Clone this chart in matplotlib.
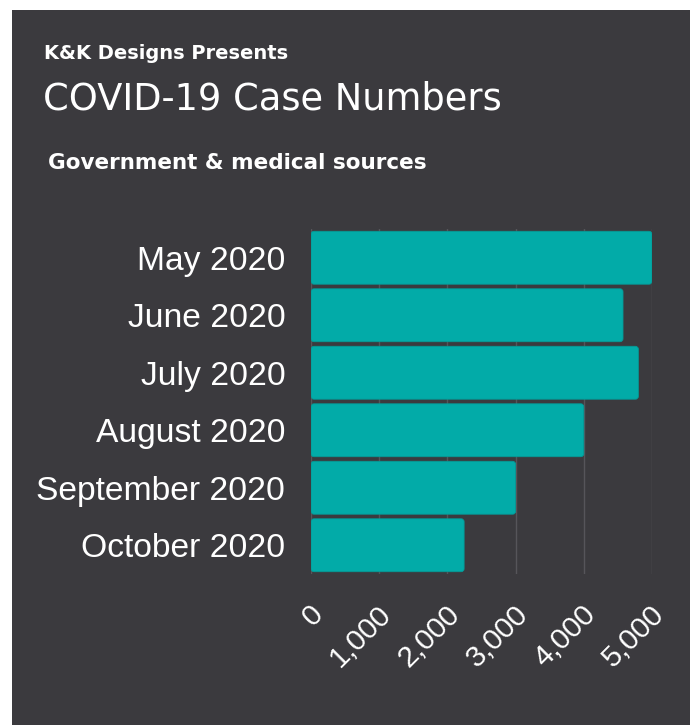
import matplotlib
matplotlib.use("Agg")
import matplotlib.pyplot as plt
from matplotlib.patches import Rectangle, FancyBboxPatch
from matplotlib.transforms import ScaledTranslation

months = ["May 2020", "June 2020", "July 2020", "August 2020", "September 2020", "October 2020"]
cases = [5000, 4575, 4800, 4000, 3000, 2245]
xticks = [0, 1000, 2000, 3000, 4000, 5000]
xtick_labels = ["0", "1,000", "2,000", "3,000", "4,000", "5,000"]

W, H = 690, 725
DPI = 100
BG = "#3b3a3e"
BAR = "#02aba8"
GRID = "#56555a"

fig = plt.figure(figsize=(W / DPI, H / DPI), dpi=DPI, facecolor="white")
fig.patches.append(Rectangle((12 / W, 0), 1 - 12 / W, 1 - 10 / H, transform=fig.transFigure,
                             facecolor=BG, edgecolor="none", zorder=-10))

# Titles
fig.text(44 / W, 1 - 59 / H, "K&K Designs Presents", color="white", fontsize=14,
         fontweight="semibold", family="DejaVu Sans", va="baseline", ha="left")
fig.text(43 / W, 1 - 110 / H, "COVID-19 Case Numbers", color="white", fontsize=26.5,
         family="DejaVu Sans", va="baseline", ha="left")
fig.text(48 / W, 1 - 169 / H, "Government & medical sources", color="white", fontsize=15.5,
         fontweight="semibold", family="DejaVu Sans", va="baseline", ha="left")

left, right = 311 / W, 652 / W
top, bottom = 1 - 229 / H, 1 - 574 / H
ax = fig.add_axes([left, bottom, right - left, top - bottom])
ax.set_facecolor("none")

xmax = 5000
ax.set_xlim(0, xmax)
ax.set_ylim(len(months) - 0.5, -0.5)

# rounded bars
px_x = xmax / ((right - left) * W)          # data units per pixel (x)
px_y = len(months) / ((top - bottom) * H)   # data units per pixel (y)
bar_h = 0.92
radius_px = 3
for i, v in enumerate(cases):
    p = FancyBboxPatch((0, i - bar_h / 2), v, bar_h,
                       boxstyle=f"round,pad=0,rounding_size={radius_px * px_x}",
                       mutation_aspect=px_y / px_x,
                       facecolor=BAR, edgecolor="#049a97", linewidth=0.6, zorder=3)
    ax.add_patch(p)

ax.set_yticks(range(len(months)))
ax.set_yticklabels(months, family="Liberation Sans", fontsize=24.2, color="white")
ax.tick_params(axis="y", length=0, pad=18.5)

ax.set_xticks(xticks)
ax.set_xticklabels(xtick_labels, family="Liberation Sans", fontsize=21.5, color="white",
                   rotation=45, ha="right", va="center", rotation_mode="anchor")
ax.tick_params(axis="x", length=0, pad=26)
for lab in ax.get_xticklabels():
    lab.set_transform(lab.get_transform() + ScaledTranslation(8 / DPI, 0, fig.dpi_scale_trans))

ax.grid(axis="x", color=GRID, linewidth=1, zorder=0)
ax.grid(axis="y", visible=False)
for s in ax.spines.values():
    s.set_visible(False)

fig.savefig("out.png", dpi=DPI, facecolor="white")
